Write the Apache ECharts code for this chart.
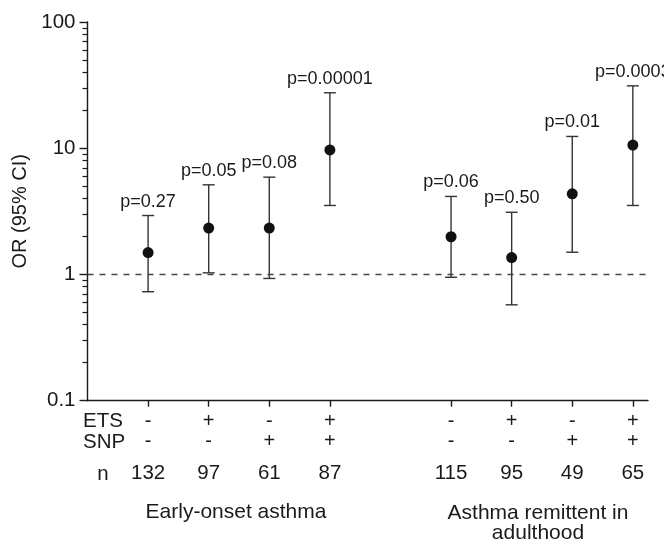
<!DOCTYPE html>
<html>
<head>
<meta charset="utf-8">
<script src="https://cdn.jsdelivr.net/npm/echarts@6/dist/echarts.min.js"></script>
<style>
  html, body { margin: 0; padding: 0; background: #fff; }
  #main { width: 664px; height: 542px; }
</style>
</head>
<body>
<div id="main"></div>
<script>
// groups: early-onset asthma (1-4), asthma remittent in adulthood (6-9)
var xPos = [1, 2, 3, 4, 6, 7, 8, 9];
var etsRow = ['-', '+', '-', '+', '-', '+', '-', '+'];
var snpRow = ['-', '-', '+', '+', '-', '-', '+', '+'];
var nRow = [132, 97, 61, 87, 115, 95, 49, 65];
var orValues = [1.49, 2.33, 2.33, 9.7, 1.99, 1.36, 4.35, 10.6];
var ciLow = [0.73, 1.03, 0.93, 3.52, 0.95, 0.575, 1.5, 3.52];
var ciHigh = [2.93, 5.13, 5.9, 27.5, 4.15, 3.11, 12.4, 31.2];
var pLabels = ['p=0.27', 'p=0.05', 'p=0.08', 'p=0.00001', 'p=0.06', 'p=0.50', 'p=0.01', 'p=0.0003'];
var yTicks = [0.1, 1, 10, 100];
var yMinorTicks = [0.2, 0.3, 0.4, 0.5, 0.6, 0.7, 0.8, 0.9,
                   2, 3, 4, 5, 6, 7, 8, 9,
                   20, 30, 40, 50, 60, 70, 80, 90];

var FONT = 'Liberation Sans, Arial, sans-serif';
var INK = '#1a1a1a';

var chart = echarts.init(document.getElementById('main'));

var points = xPos.map(function (x, i) { return [x, orValues[i]]; });
var bars = xPos.map(function (x, i) { return [x, ciLow[i], ciHigh[i], pLabels[i]]; });

// error bar + p label
function renderBar(params, api) {
  var x = api.value(0);
  var lo = api.coord([x, api.value(1)]);
  var hi = api.coord([x, api.value(2)]);
  var half = 6;
  var st = { stroke: '#333', lineWidth: 1.4 };
  return {
    type: 'group',
    children: [
      { type: 'line', shape: { x1: lo[0], y1: lo[1], x2: hi[0], y2: hi[1] }, style: st },
      { type: 'line', shape: { x1: hi[0] - half, y1: hi[1], x2: hi[0] + half, y2: hi[1] }, style: st },
      { type: 'line', shape: { x1: lo[0] - half, y1: lo[1], x2: lo[0] + half, y2: lo[1] }, style: st },
      {
        type: 'text',
        style: {
          x: hi[0], y: hi[1] - 5,
          text: pLabels[params.dataIndex],
          align: 'center', verticalAlign: 'bottom',
          font: '18px ' + FONT, fill: INK
        }
      }
    ]
  };
}

chart.setOption({
  animation: false,
  grid: { left: 87.5, right: 16, top: 22, bottom: 141.3 },
  xAxis: {
    type: 'value',
    min: 0,
    max: 9.25,
    splitLine: { show: false },
    axisLine: { lineStyle: { color: INK, width: 1.4 } },
    axisTick: { customValues: xPos, length: 6, lineStyle: { color: INK, width: 1.4 } },
    axisLabel: {
      customValues: xPos,
      margin: 11,
      formatter: function (v) {
        var i = xPos.indexOf(v);
        return '{a|' + etsRow[i] + '}\n{a|' + snpRow[i] + '}\n{n|' + nRow[i] + '}';
      },
      rich: {
        a: { fontSize: 20, lineHeight: 20, fontFamily: FONT, color: INK },
        n: { fontSize: 20.5, lineHeight: 44, fontFamily: FONT, color: INK }
      }
    }
  },
  yAxis: [{
    type: 'log',
    logBase: 10,
    min: 0.1,
    max: 100,
    name: 'OR (95% CI)',
    nameLocation: 'middle',
    nameGap: 53,
    nameTextStyle: { fontSize: 20, fontFamily: FONT, color: INK },
    splitLine: { show: false },
    axisLine: { show: true, lineStyle: { color: INK, width: 1.4 } },
    axisTick: { customValues: yTicks, length: 8, lineStyle: { color: INK, width: 1.4 } },
    axisLabel: {
      customValues: yTicks,
      margin: 12,
      fontSize: 20.5, fontFamily: FONT, color: INK,
      formatter: function (v) { return String(v); }
    }
  }, {
    type: 'log',
    logBase: 10,
    min: 0.1,
    max: 100,
    position: 'left',
    splitLine: { show: false },
    axisLine: { show: false },
    axisLabel: { show: false },
    axisTick: { customValues: yMinorTicks, length: 5, lineStyle: { color: INK, width: 1.2 } }
  }],
  series: [{
    type: 'custom',
    renderItem: renderBar,
    encode: { x: 0, y: [1, 2] },
    data: bars,
    z: 2
  }, {
    type: 'scatter',
    data: points,
    symbol: 'circle',
    symbolSize: 11,
    itemStyle: { color: '#111', opacity: 1 },
    z: 3,
    markLine: {
      silent: true,
      symbol: 'none',
      label: { show: false },
      lineStyle: { color: '#444', type: [6, 6], width: 1.3 },
      data: [{ yAxis: 1 }]
    }
  }],
  graphic: [
    { type: 'text', x: 83, y: 421.5, style: { text: 'ETS', font: '20.5px ' + FONT, fill: INK, verticalAlign: 'middle' } },
    { type: 'text', x: 83, y: 442, style: { text: 'SNP', font: '20.5px ' + FONT, fill: INK, verticalAlign: 'middle' } },
    { type: 'text', x: 103, y: 474, style: { text: 'n', font: '20.5px ' + FONT, fill: INK, align: 'center', verticalAlign: 'middle' } },
    { type: 'text', x: 236, y: 512, style: { text: 'Early-onset asthma', font: '21px ' + FONT, fill: INK, align: 'center', verticalAlign: 'middle' } },
    { type: 'text', x: 538, y: 503, style: { text: 'Asthma remittent in\nadulthood', font: '21px ' + FONT, fill: INK, align: 'center', verticalAlign: 'top', lineHeight: 20 } }
  ]
});
</script>
</body>
</html>
